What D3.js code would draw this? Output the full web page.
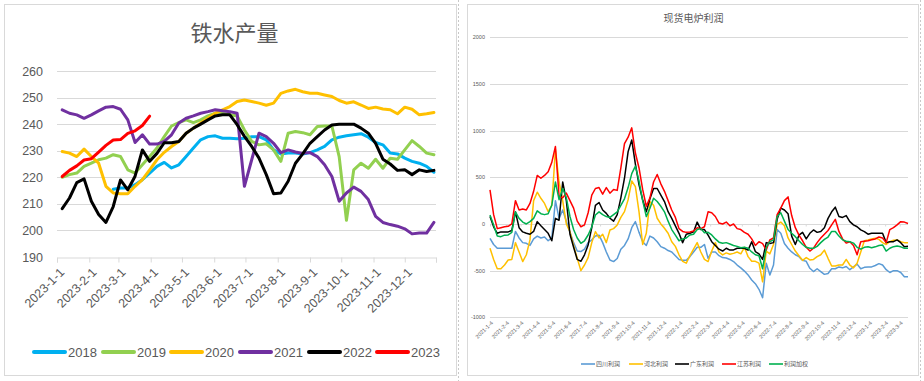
<!DOCTYPE html>
<html><head><meta charset="utf-8">
<script src="https://cdn.jsdelivr.net/npm/d3@7"></script>
<style>
body{margin:0;background:#fff}
svg{display:block}
text{font-family:"Liberation Sans",Arial,"Noto Sans CJK SC",sans-serif;fill:#595959}
.cjk{font-family:"Noto Sans CJK SC","Liberation Sans",sans-serif}
</style>
</head><body>
<svg id="c" width="924" height="381"></svg>
<script>
// ---------------- LEFT CHART DATA: 铁水产量 (weekly, plotted on 2023 calendar) ----------------
const leftTitle = "铁水产量";
const leftFirstWeek = "2023-01-06";
const leftYears = ["2018","2019","2020","2021","2022","2023"];
const leftColors = ["#00B0F0","#92D050","#FFC000","#7030A0","#000000","#FF0000"];
const leftYTicks = [190,200,210,220,230,240,250,260];
const leftXTicks = ["2023-01-01","2023-02-01","2023-03-01","2023-04-01","2023-05-01","2023-06-01","2023-07-01","2023-08-01","2023-09-01","2023-10-01","2023-11-01","2023-12-01"];
const s2018 = [null,null,null,null,null,null,null,215.5,216,216,217.2,219.1,221.6,224.1,225.6,223.5,224.7,227.8,231,234.1,235.3,235.6,234.7,234.7,234.5,234.7,235.3,235.3,234.1,230.3,228.8,229.1,229.1,228.8,229.3,230.3,231.6,234.1,235.1,235.6,236,236.4,235.1,233.1,232.2,229.1,228.8,227.2,226,225.3,224.1,221.9];
const s2019 = [220,221,221.6,224.1,225.3,226.6,227.2,228.5,227.8,222.8,221.6,224.7,227.8,231,235.3,239.3,240.6,241.6,240.6,241.6,243.1,244.1,244.1,243.5,243.1,237.8,233.5,232.2,232.6,230.3,226,236.6,237.2,236.8,236,239.1,239.3,239.3,227.8,203.8,222.8,225.3,223.4,226.8,223.4,227.2,226.8,230.3,233.8,231.6,229.1,228.5];
const s2020 = [229.7,229.1,227.8,230.6,227.8,225.3,216.6,214.1,213.8,213.8,216.6,219.1,222.8,226.6,229.4,231.6,233.5,236.6,238.5,240.4,242.2,244.1,245.4,246.6,248.5,249.1,248.5,247.9,247.1,247.9,251.6,252.5,253.1,252.2,251.6,251.6,251,250.4,248.9,247.9,248.4,247.2,245.9,246.4,245.7,245.4,243.9,246.4,245.6,243.5,243.9,244.4];
const s2021 = [245.4,244.1,243.5,242.2,243.5,245,246.4,246.6,245.6,241.6,233.1,236,232.5,232.5,233.5,236,240.4,242.2,243.1,244.1,244.7,245.4,245,244.7,244.1,216.6,226.6,236.6,235.3,232.8,229.3,230.3,229.5,229,229.3,227.8,224.7,220.3,211,214.1,216.3,214.7,211.6,205.3,203,202.2,201.6,200.6,198.7,199,199,203];
const s2022 = [208.2,212.2,218,219.4,211,206,203,209,219,215.3,220.4,230.3,226,229,233,233,233.5,236.6,238.5,240,241.6,243.1,243.5,243.5,239.8,235.4,231.6,227.2,221,213.8,214.1,218.5,225.3,228.8,232.8,235.3,237.8,239.7,240,240,240,238.5,236.6,232.8,226.8,225,222.6,222.8,221,222.8,222.2,222.6];
const s2023 = [220.3,222.6,224.3,226.5,227,229.5,232,234,234.2,236.5,237.5,239.5,243];

// ---------------- RIGHT CHART DATA: 现货电炉利润 (weekly samples) ----------------
const rightTitle = "现货电炉利润";
const rightFirstDate = "2021-01-04";
const rightNames = ["四川利润","河北利润","广东利润","江苏利润","利润加权"];
const rightColors = ["#5B9BD5","#FFC000","#000000","#FF0000","#00B050"];
const rightYTicks = [-1000,-500,0,500,1000,1500,2000];
const rightXTicks = ["2021-1-4","2021-2-4","2021-3-4","2021-4-4","2021-5-4","2021-6-4","2021-7-4","2021-8-4","2021-9-4","2021-10-4","2021-11-4","2021-12-4","2022-1-4","2022-2-4","2022-3-4","2022-4-4","2022-5-4","2022-6-4","2022-7-4","2022-8-4","2022-9-4","2022-10-4","2022-11-4","2022-12-4","2023-1-4","2023-2-4","2023-3-4"];
const sichuan = [-154,-220,-260,-260,-260,-260,-260,-80,-150,-200,-207,-230,-160,-130,-150,-140,-180,-150,250,60,150,30,-90,-200,-290,-296,-270,-200,-170,-130,-120,-200,-300,-386,-403,-370,-270,-230,-160,-40,25,-90,-190,-230,-130,-150,-190,-243,-260,-285,-300,-340,-380,-390,-390,-350,-300,-250,-250,-220,-368,-300,-300,-340,-360,-365,-380,-403,-440,-470,-505,-546,-600,-640,-700,-790,-420,-546,-440,-60,-100,-210,-260,-300,-330,-350,-390,-400,-475,-510,-480,-510,-540,-530,-480,-480,-460,-470,-455,-490,-460,-430,-480,-465,-460,-460,-445,-425,-440,-490,-520,-500,-500,-520,-565,-565];
const hebei = [-260,-380,-480,-480,-440,-386,-380,-200,-300,-403,-330,-171,250,340,275,220,132,200,800,450,250,0,-82,-230,-368,-500,-440,-360,-200,-82,-150,-110,-200,-64,-50,-10,70,132,260,460,400,130,-220,-100,240,200,61,0,-46,-100,-190,-240,-330,-400,-420,-340,-270,-200,-300,-380,-403,-290,-200,-300,-332,-310,-325,-315,-300,-320,-250,-350,-400,-400,-420,-620,-290,-320,-220,-5,20,-20,-150,-220,-290,-340,-390,-360,-386,-380,-350,-330,-280,-368,-450,-450,-440,-440,-380,-440,-470,-420,-300,-180,-171,-160,-154,-165,-200,-220,-190,-175,-171,-190,-200,-200];
const guangdong = [79,-30,-100,-85,-85,-85,-70,130,-40,-85,-100,-110,-80,25,-20,-60,-100,-180,60,40,450,250,-110,-250,-380,-400,-330,-225,-40,200,230,150,114,61,30,100,280,490,775,900,640,420,260,130,270,380,380,310,240,132,60,-20,-100,-200,-110,-100,-85,20,-60,-60,-120,-190,-230,-270,-290,-260,-280,-278,-260,-260,-260,-280,-190,-296,-320,-380,-200,-210,-200,50,170,150,110,-130,-220,-120,-90,-160,-100,-64,-90,-80,-40,60,130,180,80,70,90,25,-10,-30,-64,-82,-110,-100,-100,-100,-100,-200,-190,-190,-171,-200,-243,-240];
const jiangsu = [365,100,-50,-40,-30,-25,0,250,150,160,150,220,350,520,490,520,560,660,830,300,280,330,250,170,30,-30,-10,120,310,380,390,320,390,330,370,360,600,860,930,1030,760,600,370,190,280,450,530,430,350,250,150,70,-50,-80,-90,-85,-75,-40,-50,-30,130,120,80,10,0,20,-20,0,-50,-60,-90,-110,-160,-230,-190,-210,-280,-170,-150,100,170,250,290,90,-40,-120,-180,-250,-290,-260,-200,-150,-110,-70,-10,50,-80,-160,-205,-190,-230,-330,-190,-185,-180,-170,-160,-140,-150,-200,-60,-40,-10,25,20,5];
const weighted = [96,-10,-130,-136,-120,-118,-90,130,60,20,0,25,60,140,110,100,110,200,450,260,380,280,80,-60,-150,-207,-180,-118,-30,96,130,100,79,70,100,130,200,270,390,540,620,460,250,79,168,275,240,190,130,30,-60,-120,-180,-160,-150,-118,-110,-60,-50,-95,-90,-118,-160,-195,-207,-200,-215,-230,-240,-255,-250,-260,-300,-330,-340,-480,-250,-190,-171,80,120,30,-60,-100,-136,-180,-220,-250,-260,-260,-240,-200,-165,-140,-80,-80,-130,-170,-185,-190,-205,-250,-270,-250,-245,-255,-245,-230,-225,-290,-260,-243,-235,-245,-260,-260];

// ---------------- DRAWING ----------------
const svg = d3.select("#c");
const parse = d3.timeParse("%Y-%m-%d");
const DAY = 864e5;

// frames
svg.append("rect").attr("x",4.5).attr("y",4.5).attr("width",452).attr("height",371)
  .attr("fill","#fff").attr("stroke","#d9d9d9");
svg.append("rect").attr("x",467.5).attr("y",4.5).attr("width",451).attr("height",371)
  .attr("fill","#fff").attr("stroke","#d9d9d9");
[458.5,920.5].forEach(x=>svg.append("line").attr("x1",x).attr("x2",x).attr("y1",0).attr("y2",381)
  .attr("stroke","#c8c8c8").attr("stroke-dasharray","2,2"));

// ===== LEFT =====
{
  const g = svg.append("g");
  const x = d3.scaleTime().domain([parse("2023-01-01"), parse("2023-12-31")]).range([57,436]);
  const y = d3.scaleLinear().domain([190,260]).range([257,71]);
  g.append("text").attr("class","cjk").attr("x",234.5).attr("y",41).attr("text-anchor","middle")
    .style("font-size","22px").text(leftTitle);
  g.selectAll(".gl").data(leftYTicks.slice(1)).join("line")
    .attr("x1",57).attr("x2",436).attr("y1",d=>Math.round(y(d))+0.5).attr("y2",d=>Math.round(y(d))+0.5)
    .attr("stroke","#d9d9d9").attr("stroke-width",1);
  g.selectAll(".yl").data(leftYTicks).join("text")
    .attr("x",43).attr("y",d=>y(d)).attr("dy","0.36em").attr("text-anchor","end")
    .style("font-size","12.5px").text(d=>d);
  const ax = d3.axisBottom(x).tickValues(leftXTicks.map(parse).concat([parse("2023-12-31")])).tickSize(5).tickFormat("");
  const axg = g.append("g").attr("transform","translate(0,257.5)").call(ax);
  axg.select(".domain").attr("stroke","#d9d9d9");
  axg.selectAll(".tick line").attr("stroke","#d9d9d9");
  g.selectAll(".xl").data(leftXTicks).join("text")
    .attr("transform",d=>`translate(${x(parse(d))+5},270) rotate(-45)`)
    .attr("text-anchor","end").attr("dy","0.35em").style("font-size","12.5px")
    .text(d=>{const t=parse(d);return `${t.getFullYear()}-${t.getMonth()+1}-${t.getDate()}`;});
  const base = parse(leftFirstWeek).getTime();
  const series = [s2018,s2019,s2020,s2021,s2022,s2023];
  const line = d3.line().defined(d=>d.v!=null).x(d=>x(new Date(base+d.i*7*DAY))).y(d=>y(d.v));
  series.forEach((s,k)=>{
    g.append("path").datum(s.map((v,i)=>({i,v})))
      .attr("d",line).attr("fill","none").attr("stroke",leftColors[k])
      .attr("stroke-width",3).attr("stroke-linejoin","round").attr("stroke-linecap","round");
  });
  const lx = [34,103,171,240,309,377];
  leftYears.forEach((n,k)=>{
    g.append("line").attr("x1",lx[k]).attr("x2",lx[k]+31).attr("y1",352).attr("y2",352)
      .attr("stroke",leftColors[k]).attr("stroke-width",4).attr("stroke-linecap","round");
    g.append("text").attr("x",lx[k]+34).attr("y",352).attr("dy","0.36em")
      .style("font-size","13px").text(n);
  });
}

// ===== RIGHT =====
{
  const g = svg.append("g");
  const base = parse(rightFirstDate);
  const last = new Date(base.getTime()+(sichuan.length-1)*7*DAY);
  const x = d3.scaleTime().domain([base,last]).range([490,908]);
  const y = d3.scaleLinear().domain([-1000,2000]).range([317.3,37.3]);
  g.append("text").attr("class","cjk").attr("x",693.5).attr("y",22).attr("text-anchor","middle")
    .style("font-size","10px").text(rightTitle);
  g.selectAll(".gl").data(rightYTicks).join("line")
    .attr("x1",490).attr("x2",908).attr("y1",d=>Math.round(y(d))+0.5).attr("y2",d=>Math.round(y(d))+0.5)
    .attr("stroke","#d9d9d9").attr("stroke-width",1);
  g.selectAll(".yl").data(rightYTicks).join("text")
    .attr("x",485).attr("y",d=>y(d)).attr("dy","0.36em").attr("text-anchor","end")
    .style("font-size","5.5px").text(d=>d);
  const tickDates = rightXTicks.map(d3.timeParse("%Y-%m-%d"));
  const ax = d3.axisBottom(x).tickValues(tickDates).tickSize(2).tickFormat("");
  const axg = g.append("g").attr("transform",`translate(0,${Math.round(y(0))+0.5})`).call(ax);
  axg.select(".domain").remove();
  axg.selectAll(".tick line").attr("stroke","#d9d9d9");
  g.selectAll(".xl").data(rightXTicks).join("text")
    .attr("transform",(d,i)=>`translate(${x(tickDates[i])+2},322) rotate(-45)`)
    .attr("text-anchor","end").attr("dy","0.35em").style("font-size","5.5px").text(d=>d);
  const series = [sichuan,hebei,guangdong,jiangsu,weighted];
  const line = d3.line().x((d,i)=>x(new Date(base.getTime()+i*7*DAY))).y(d=>y(d));
  series.forEach((s,k)=>{
    g.append("path").datum(s).attr("d",line).attr("fill","none")
      .attr("stroke",rightColors[k]).attr("stroke-width",1.5).attr("stroke-linejoin","round");
  });
  const lx = [581,629,675,722,769];
  rightNames.forEach((n,k)=>{
    g.append("line").attr("x1",lx[k]).attr("x2",lx[k]+14).attr("y1",364).attr("y2",364)
      .attr("stroke",rightColors[k]).attr("stroke-width",1.6);
    g.append("text").attr("class","cjk").attr("x",lx[k]+15).attr("y",364).attr("dy","0.36em")
      .style("font-size","6px").text(n);
  });
}
</script>
</body></html>
